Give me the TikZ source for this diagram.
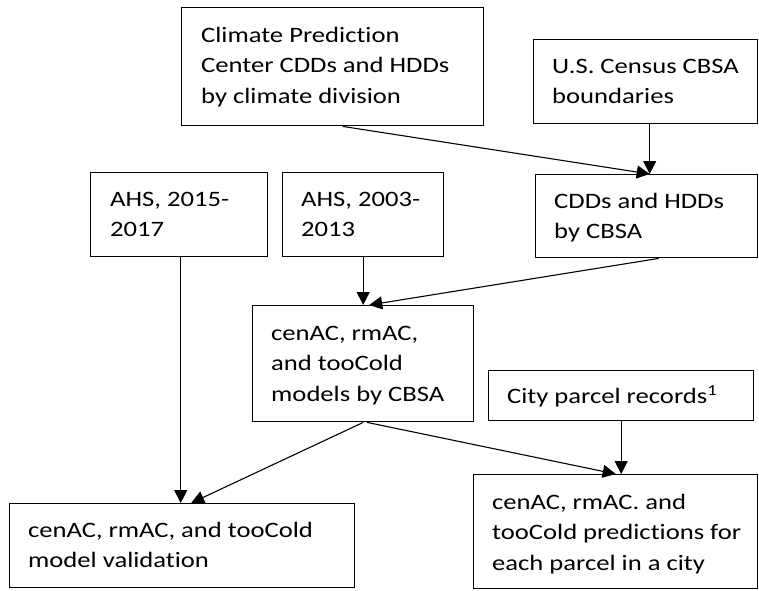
\documentclass[tikz,border=0pt]{standalone}
\usepackage{fontspec}
\setmainfont{Carlito}[FakeStretch=1.21,Ligatures=NoCommon]
\usetikzlibrary{arrows.meta,calc}
\begin{document}
\begin{tikzpicture}[x=1pt,y=-1pt,
  box/.style={draw=black, line width=1.4pt, rectangle, inner sep=0pt, anchor=north west},
  txt/.style={anchor=north west, inner sep=0pt, align=left, font=\fontsize{22}{30.5}\selectfont, text=black},
  conn/.style={draw=black, line width=1.1pt, -{Triangle[length=13pt,width=13pt]}}
]
\useasboundingbox (0,0) rectangle (759,590);
% boxes
\node[box, minimum width=302pt, minimum height=118pt] (clim) at (181,7) {};
\node[box, minimum width=224pt, minimum height=84pt] (census) at (533,39) {};
\node[box, minimum width=177pt, minimum height=84pt] (ahsa) at (90,172) {};
\node[box, minimum width=161pt, minimum height=84pt] (ahsb) at (282,172) {};
\node[box, minimum width=222pt, minimum height=83pt] (cdd) at (535,174) {};
\node[box, minimum width=221pt, minimum height=116pt] (models) at (252,305) {};
\node[box, minimum width=265pt, minimum height=50pt] (city) at (488,370) {};
\node[box, minimum width=345pt, minimum height=84pt] (valid) at (9,503) {};
\node[box, minimum width=284pt, minimum height=114pt] (pred) at (473,474) {};
% texts
\node[txt] (climt) at (201,24) {\rule{0pt}{18pt}Climate Prediction\\Center CDDs and HDDs\\by climate division};
\node[txt] (censust) at (552,55) {\rule{0pt}{18pt}U.S. Census CBSA\\boundaries};
\node[txt] (ahsat) at (110,188) {\rule{0pt}{18pt}AHS, 2015-\\2017};
\node[txt] (ahsbt) at (301,188) {\rule{0pt}{18pt}AHS, 2003-\\2013};
\node[txt] (cddt) at (554,190) {\rule{0pt}{18pt}CDDs and HDDs\\by CBSA};
\node[txt] (modelst) at (271,322) {\rule{0pt}{18pt}cenAC, rmAC,\\and tooCold\\models by CBSA};
\node[txt] (cityt) at (507,385) {\rule{0pt}{18pt}City parcel records\textsuperscript{1}};
\node[txt] (validt) at (28,519) {\rule{0pt}{18pt}cenAC, rmAC, and tooCold\\model validation};
\node[txt] (predt) at (492,491) {\rule{0pt}{18pt}cenAC, rmAC. and\\tooCold predictions for\\each parcel in a city};
% connectors
\draw[conn] ([xshift=10pt]clim.south) -- ([xshift=3pt]cdd.north);
\draw[conn] ([xshift=4pt]census.south) -- ([xshift=4pt]census.south |- cdd.north);
\draw[conn] (ahsb.south) -- (ahsb.south |- models.north);
\draw[conn] ([xshift=12pt]cdd.south) -- ([xshift=6pt]models.north);
\draw[conn] ([xshift=1.5pt]ahsa.south) -- ([xshift=1.5pt]ahsa.south |- valid.north);
\draw[conn] (models.south) -- ([xshift=9pt]valid.north);
\draw[conn] ([xshift=4pt]models.south) -- (pred.north);
\draw[conn] (city.south) -- (city.south |- pred.north);
\end{tikzpicture}
\end{document}
